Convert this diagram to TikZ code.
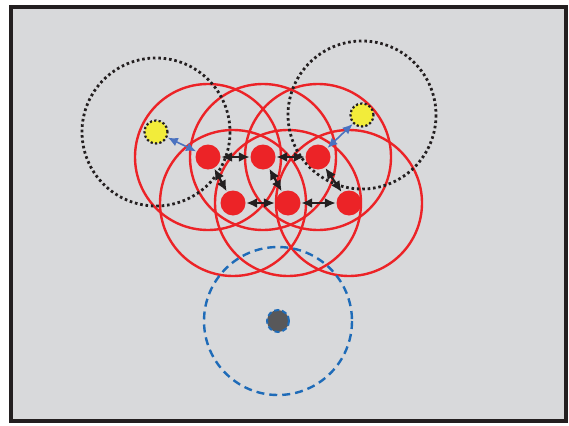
\documentclass[tikz,border=0pt]{standalone}
\usetikzlibrary{arrows.meta}
\definecolor{bgray}{HTML}{D8D9DB}
\definecolor{fr}{HTML}{231F20}
\definecolor{rd}{HTML}{EC2327}
\definecolor{ylw}{HTML}{F2EC3A}
\definecolor{blu}{HTML}{4A72C0}
\definecolor{dblu}{HTML}{1E6BB8}
\definecolor{gdot}{HTML}{58585A}
\begin{document}
\begin{tikzpicture}[x=1pt,y=-1pt,
  reddot/.style={circle,fill=rd,minimum size=25pt,inner sep=0pt},
  ydot/.style={circle,fill=ylw,draw=fr,line width=2.2pt,dash pattern=on 2.2pt off 2.2pt,minimum size=23pt,inner sep=0pt},
  gdotst/.style={circle,fill=gdot,draw=dblu,line width=2pt,dash pattern=on 5pt off 3pt,minimum size=22pt,inner sep=0pt},
  rring/.style={draw=rd,line width=2.4pt},
  dring/.style={draw=fr,line width=2.8pt,dash pattern=on 2.6pt off 2.8pt},
  bring/.style={draw=dblu,line width=2.4pt,dash pattern=on 8pt off 5pt},
  barrow/.style={{Latex[length=11pt,width=10pt]}-{Latex[length=11pt,width=10pt]},draw=fr,line width=2.2pt,shorten <=0.5pt,shorten >=0.5pt},
  blarrow/.style={{Latex[length=10pt,width=9pt]}-{Latex[length=10pt,width=9pt]},draw=blu,line width=1.6pt,shorten <=0.5pt,shorten >=0.5pt}]
\useasboundingbox (0,0) rectangle (569,425);
\draw[fill=bgray,draw=fr,line width=4pt] (11,7) rectangle (566,421);
% rings
\foreach \p in {(208,157),(263,157),(318,157),(233,203),(288,203),(349,203)}
  \draw[rring] \p circle[radius=73];
\draw[dring] (156,132) circle[radius=74];
\draw[dring] (362,115) circle[radius=74];
\draw[bring] (278,321) circle[radius=74];
% dots
\node[reddot] (r1) at (208,157) {};
\node[reddot] (r2) at (263,157) {};
\node[reddot] (r3) at (318,157) {};
\node[reddot] (r4) at (233,203) {};
\node[reddot] (r5) at (288,203) {};
\node[reddot] (r6) at (349,203) {};
\node[ydot] (y1) at (156,132) {};
\node[ydot] (y2) at (362,115) {};
\node[gdotst] (g1) at (278,321) {};
% arrows
\draw[barrow] (r1) -- (r2);
\draw[barrow] (r2) -- (r3);
\draw[barrow] (r1) -- (r4);
\draw[barrow] (r2) -- (r5);
\draw[barrow] (r3) -- (r6);
\draw[barrow] (r4) -- (r5);
\draw[barrow] (r5) -- (r6);
\draw[blarrow] (y1) -- (r1);
\draw[blarrow] (y2) -- (r3);
\end{tikzpicture}
\end{document}
